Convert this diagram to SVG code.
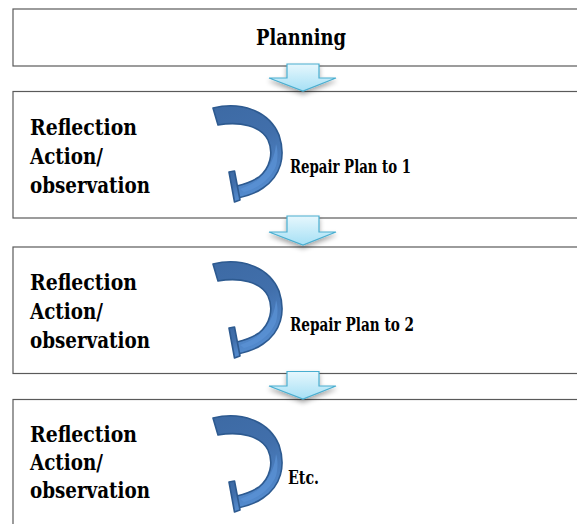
<svg xmlns="http://www.w3.org/2000/svg" xmlns:xlink="http://www.w3.org/1999/xlink" width="577" height="524" viewBox="0 0 577 524">
  <style>
    .box { fill: #ffffff; stroke: #5a5a5a; stroke-width: 1.2; }
    text { font-family: 'DejaVu Serif Condensed', 'DejaVu Serif', serif; font-stretch: condensed; font-weight: bold; fill: #000; }
    .title { font-size: 23px; }
    .stage { font-size: 23px; }
    .note { font-size: 18.5px; }
    .flow { fill: url(#flowFill); stroke: #4aaed0; stroke-width: 1.2; filter: url(#soft); }
    .loop { fill: url(#loopFill); stroke: #2d5a90; stroke-width: 1.6; stroke-linejoin: round; }
  </style>
  <defs>
    <linearGradient id="flowFill" x1="0" y1="0" x2="0" y2="1">
      <stop offset="0" stop-color="#e6f7fd"/>
      <stop offset="1" stop-color="#a6e0f5"/>
    </linearGradient>
    <linearGradient id="loopFill" x1="0" y1="0" x2="0.3" y2="1">
      <stop offset="0" stop-color="#3d6aa4"/>
      <stop offset="0.5" stop-color="#416fab"/>
      <stop offset="1" stop-color="#5289cc"/>
    </linearGradient>
    <filter id="soft" x="-30%" y="-30%" width="160%" height="180%">
      <feGaussianBlur in="SourceAlpha" stdDeviation="2.5"/>
      <feOffset dy="3" result="b"/>
      <feComponentTransfer><feFuncA type="linear" slope="0.35"/></feComponentTransfer>
      <feMerge><feMergeNode/><feMergeNode in="SourceGraphic"/></feMerge>
    </filter>
    <!-- curved return arrow: ribbon band ending in a flat bar -->
    <g id="loop">
      <path class="loop" d="M213,108 C241,101 269,111 279,135 C286,156 281,176 263,188 C256,193 247,196 238,198 L237,186 C245,184 253,181 259,177 C270,168 274,153 268,140 C261,126 240,121 218,125 Z"/>
      <path d="M244,192 C258,188 270,180 276,166 C278,158 278,150 276,144 C275,155 271,168 259,179 C253,184 246,187 240,189 Z" fill="#5b93d6" opacity="0.7"/>
      <path class="loop" d="M229,172 L234.5,171 L240,200 L234.5,202 Z"/>
    </g>
  </defs>

  <!-- stage boxes -->
  <g id="planning">
    <rect class="box" x="13" y="9" width="600" height="57"/>
    <text class="title" x="256" y="45" textLength="90" lengthAdjust="spacingAndGlyphs">Planning</text>
  </g>

  <g id="cycle1">
    <rect class="box" x="13" y="91.5" width="600" height="126.5"/>
    <text class="stage" x="30" y="135" textLength="107" lengthAdjust="spacingAndGlyphs">Reflection</text>
    <text class="stage" x="30" y="164" textLength="73" lengthAdjust="spacingAndGlyphs">Action/</text>
    <text class="stage" x="30" y="193" textLength="120" lengthAdjust="spacingAndGlyphs">observation</text>
    <use xlink:href="#loop"/>
    <text class="note" x="290" y="173" textLength="121" lengthAdjust="spacingAndGlyphs">Repair Plan to 1</text>
  </g>

  <g id="cycle2">
    <rect class="box" x="13" y="247" width="600" height="126.5"/>
    <text class="stage" x="30" y="290" textLength="107" lengthAdjust="spacingAndGlyphs">Reflection</text>
    <text class="stage" x="30" y="319" textLength="73" lengthAdjust="spacingAndGlyphs">Action/</text>
    <text class="stage" x="30" y="348" textLength="120" lengthAdjust="spacingAndGlyphs">observation</text>
    <use xlink:href="#loop" transform="translate(0,156)"/>
    <text class="note" x="290" y="331" textLength="124" lengthAdjust="spacingAndGlyphs">Repair Plan to 2</text>
  </g>

  <g id="cycle3">
    <rect class="box" x="13" y="399.5" width="600" height="160"/>
    <text class="stage" x="30" y="442" textLength="107" lengthAdjust="spacingAndGlyphs">Reflection</text>
    <text class="stage" x="30" y="470" textLength="73" lengthAdjust="spacingAndGlyphs">Action/</text>
    <text class="stage" x="30" y="498" textLength="120" lengthAdjust="spacingAndGlyphs">observation</text>
    <use xlink:href="#loop" transform="translate(0,310)"/>
    <text class="note" x="288" y="484" textLength="31" lengthAdjust="spacingAndGlyphs">Etc.</text>
  </g>

  <!-- downward flow arrows between stages -->
  <g id="connectors">
    <path class="flow" d="M287,64 H319 V78 H336 L303,91 L269,78 H287 Z"/>
    <path class="flow" d="M287,216 H319 V232 H336 L303,245 L269,232 H287 Z"/>
    <path class="flow" d="M287,371.5 H319 V386 H336 L303,399 L269,386 H287 Z"/>
  </g>
</svg>
